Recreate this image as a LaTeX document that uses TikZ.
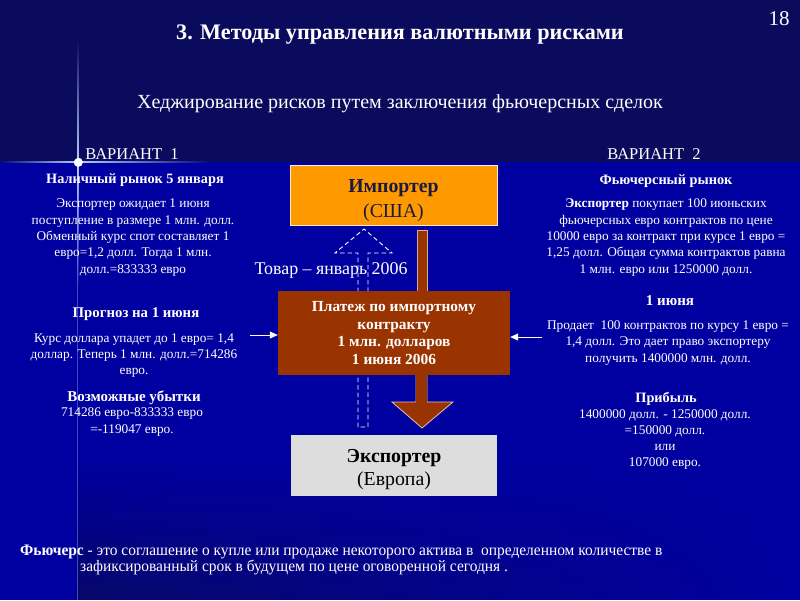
\documentclass[tikz,border=0pt]{standalone}
\usepackage{fontspec}
\setmainfont{Liberation Serif}
\newfontfamily\condfont[FakeStretch=0.965]{Liberation Serif}
\usetikzlibrary{fadings,arrows.meta,calc}
\definecolor{bgtop}{HTML}{0B0B5E}
\definecolor{bgband}{HTML}{0000A0}
\definecolor{bgdark}{HTML}{08086A}
\definecolor{impo}{HTML}{FF9900}
\definecolor{pay}{HTML}{993300}
\definecolor{expo}{HTML}{DDDDDD}
\definecolor{boxtxt}{HTML}{1A1A40}
\definecolor{flare}{HTML}{B8D0FF}
\tikzfading[name=fadeleft, left color=transparent!100, right color=transparent!0]
\tikzfading[name=faderight, left color=transparent!0, right color=transparent!100]
\tikzfading[name=fadetop, top color=transparent!100, bottom color=transparent!0]
\tikzfading[name=fadebottom, top color=transparent!0, bottom color=transparent!100]
\tikzset{
  body/.style={text=white, align=center, inner sep=0pt, yshift=-2pt, font=\fontsize{13.3}{16.3}\selectfont},
  head/.style={text=white, align=center, inner sep=0pt, yshift=-2pt, font=\fontsize{14.3}{16}\selectfont\bfseries},
  varnt/.style={text=white, inner sep=0pt, font=\fontsize{16.5}{18}\selectfont},
  boxshape/.style={rectangle, inner sep=0pt},
  boxlabel/.style={inner sep=0pt, align=center, font=\fontsize{19.8}{24}\selectfont},
  deftext/.style={anchor=west, text=white, inner sep=0pt, font=\condfont\fontsize{16}{18}\selectfont},
  wirearrow/.style={draw=white, line width=0.8pt, -{Triangle[width=7pt,length=8pt]}},
}
\begin{document}
\begin{tikzpicture}[x=1pt,y=-1pt]
\useasboundingbox (0,0) rectangle (800,600);
% background
\fill[bgtop] (0,0) rectangle (800,600);
\fill[bgband] (0,162) rectangle (800,600);
\fill[bgdark, path fading=fadetop] (77,460) rectangle (800,600);
\fill[bgband, path fading=fadeleft] (77,460) rectangle (800,600);
\fill[bgband] (0,162) rectangle (77,600);
% flare
\fill[flare, opacity=0.35] (76.6,162) rectangle (77.6,600);
\fill[flare, path fading=fadetop] (76.5,40) rectangle (78.5,162);
\fill[flare, path fading=fadebottom] (76.5,162) rectangle (78.5,290);
\fill[flare, path fading=fadeleft] (0,161) rectangle (78,163);
\fill[flare, path fading=faderight] (78,161) rectangle (210,163);
\fill[white, path fading=circle with fuzzy edge 20 percent] (78,162) circle (5);

% titles
\node[text=white, font=\fontsize{22.2}{26}\selectfont\bfseries] (title) at (400,35) {3. Методы управления валютными рисками};
\node[text=white, font=\fontsize{21}{24}\selectfont] (pagenum) at (779,18.5) {18};
\node[text=white, font=\fontsize{20}{24}\selectfont] (subtitle) at (400,104) {Хеджирование рисков путем заключения фьючерсных сделок};

% left column
\node[varnt] (v1) at (132,154) {ВАРИАНТ\ \ 1};
\node[head] (h1) at (135,178) {Наличный рынок 5 января};
\node[body] (p1) at (133,235.5) {Экспортер ожидает 1 июня\\поступление в размере 1 млн. долл.\\Обменный курс спот составляет 1\\евро=1,2 долл. Тогда 1 млн.\\долл.=833333 евро};
\node[head, font=\fontsize{14.8}{16}\selectfont\bfseries] (h2) at (136,312) {Прогноз на 1 июня};
\node[body] (p2) at (134,353.5) {Курс доллара упадет до 1 евро= 1,4\\доллар. Теперь 1 млн. долл.=714286\\евро.};
\node[head, font=\fontsize{15}{16}\selectfont\bfseries] (h3) at (134,396) {Возможные убытки};
\node[body] (p3) at (132,420) {714286 евро-833333 евро\\=-119047 евро.};

% right column
\node[varnt] (v2) at (654,154) {ВАРИАНТ\ \ 2};
\node[head] (h4) at (666,179) {Фьючерсный рынок};
\node[body] (p4) at (666,235.5) {\textbf{Экспортер} покупает 100 июньских\\фьючерсных евро контрактов по цене\\10000 евро за контракт при курсе 1 евро =\\1,25 долл. Общая сумма контрактов равна\\1 млн. евро или 1250000 долл.};
\node[head, font=\fontsize{15}{16}\selectfont\bfseries] (h5) at (670,299) {1 июня};
\node[body] (p5) at (668,341) {Продает\ \ 100 контрактов по курсу 1 евро =\\1,4 долл. Это дает право экспортеру\\получить 1400000 млн. долл.};
\node[head] (h6) at (666,397) {Прибыль};
\node[body] (p6) at (665,437.5) {1400000 долл. - 1250000 долл.\\=150000 долл.\\или\\107000 евро.};

% central boxes
\node[boxshape, fill=impo, draw=white!80!impo, line width=0.8pt, minimum width=207pt, minimum height=60pt] (imp) at (393.5,195) {};
\node[boxlabel, text=boxtxt, font=\fontsize{19.8}{25}\selectfont] (imptext) at ($(imp.center)+(0,6)$) {\textbf{Импортер}\\(США)};
\node[boxshape, fill=expo, minimum width=206pt, minimum height=61pt] (exp) at (394,465.5) {};
\node[boxlabel, text=black, font=\fontsize{19.8}{23}\selectfont] (exptext) at ($(exp.center)+(0,4)$) {\textbf{Экспортер}\\(Европа)};

% dashed hollow arrow (goods)
\coordinate (gA) at (358,427);
\draw[white, line width=0.9pt, dash pattern=on 4.5pt off 3pt]
  (gA) -- (358,253) -- (335,253) -- (364,229) -- (392,253) -- (368,253) -- (368,427) -- cycle;

% brown payment flow
\fill[pay, draw=white!60!pay, line width=0.5pt] (417,230) rectangle (427,300);
\draw[fill=pay, draw=white!70!pay, line width=0.8pt]
  (416,370) -- (416,402) -- (392,402) -- (422,428) -- (453,402) -- (427,402) -- (427,370);
\fill[pay] (416.4,370) rectangle (426.6,403);

\node[rectangle, fill=pay, inner sep=0pt, minimum width=232pt, minimum height=84pt, text=white, align=center,
  font=\fontsize{15.4}{17.7}\selectfont\bfseries] (pay) at (394,333) {Платеж по импортному\\контракту\\1 млн. долларов\\1 июня 2006};

\node[text=white, font=\fontsize{17.9}{20}\selectfont, inner sep=0pt] (goods) at (331,270) {Товар – январь 2006};

% side arrows
\coordinate (la) at (250,335);
\coordinate (ra) at (542,337);
\draw[wirearrow] (la) -- (la -| pay.west);
\draw[wirearrow] (ra) -- (ra -| pay.east);

% bottom definition
\node[deftext] (def1) at (20,551.5) {\textbf{Фьючерс} - это соглашение о купле или продаже некоторого актива в\ \ определенном количестве в};
\node[deftext] (def2) at (80,567.5) {зафиксированный срок в будущем по цене оговоренной сегодня .};
\end{tikzpicture}
\end{document}
